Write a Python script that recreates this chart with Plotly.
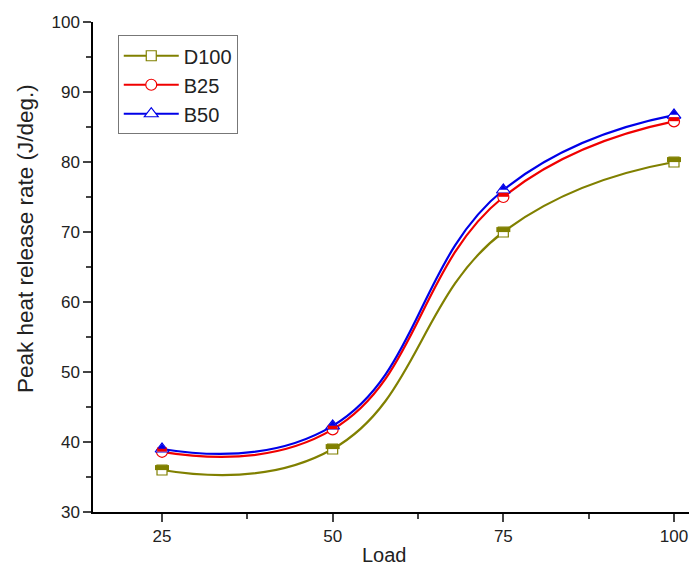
import plotly.graph_objects as go

load = [25, 50, 75, 100]
d100 = [36.0, 39.0, 70.0, 80.0]
b25 = [38.6, 41.8, 75.0, 85.8]
b50 = [39.0, 42.3, 76.0, 86.7]

series = [
    ("D100", d100, "#808000", "square", 10),
    ("B25", b25, "#F00000", "circle", 11),
    ("B50", b50, "#0000E8", "triangle-up", 12),
]

PX = 70 / 490  # y-units per pixel (plot height 490 px for 30..100)

fig = go.Figure()
for name, ys, col, sym, sz in series:
    fig.add_trace(go.Scatter(
        x=load, y=ys, name=name, mode="lines+markers",
        line=dict(color=col, width=2.2, shape="spline", smoothing=1.3),
        marker=dict(symbol=sym, size=sz, color="white", line=dict(color=col, width=1.2)),
    ))

# upper-half fill of the markers (half-filled symbols)
half = {
    "square": dict(symbol="line-ew", size=10, lw=5, shift=2.4),
    "circle": dict(symbol="line-ew", size=7, lw=4, shift=2.2),
    "triangle-up": dict(symbol="triangle-up", size=7, lw=0, shift=2.0),
}
for name, ys, col, sym, sz in series:
    h = half[sym]
    fig.add_trace(go.Scatter(
        x=load, y=[v + h["shift"] * PX for v in ys], mode="markers", showlegend=False,
        hoverinfo="skip",
        marker=dict(symbol=h["symbol"], size=h["size"], color=col,
                    line=dict(color=col, width=h["lw"])),
    ))

fig.add_annotation(text="Peak heat release rate (J/deg.)", textangle=-90,
                   xref="paper", yref="paper", x=-0.1126, y=0.559,
                   xanchor="center", yanchor="middle", showarrow=False,
                   font=dict(size=22.5, color="#222222"))
fig.add_annotation(text="Load", xref="paper", yref="paper", x=0.4818, y=-0.0878,
                   xanchor="center", yanchor="middle", showarrow=False,
                   font=dict(size=20, color="#222222"))

fig.update_layout(
    width=689, height=568,
    margin=dict(l=85, r=0, t=14, b=64),
    paper_bgcolor="white", plot_bgcolor="white",
    font=dict(family="Liberation Sans, Arial", color="#222222"),
    legend=dict(x=0.041, y=0.973, xanchor="left", yanchor="top",
                bordercolor="#777777", borderwidth=1, bgcolor="white",
                font=dict(size=20), tracegroupgap=0, itemwidth=55),
    xaxis=dict(range=[14.89, 103.37], tickvals=load, ticks="outside", ticklen=8,
               tickwidth=1.5, showline=True, linecolor="black", linewidth=1.5,
               showgrid=False, zeroline=False, tickfont=dict(size=17),
               minor=dict(dtick=12.5, tick0=25, ticks="outside", ticklen=5, tickwidth=1.5)),
    yaxis=dict(range=[30, 100], dtick=10, ticks="outside", ticklen=8, tickwidth=1.5,
               showline=True, linecolor="black", linewidth=1.5, showgrid=False,
               zeroline=False, tickfont=dict(size=17),
               minor=dict(dtick=5, ticks="outside", ticklen=5, tickwidth=1.5)),
)
fig.write_html("out.html")
